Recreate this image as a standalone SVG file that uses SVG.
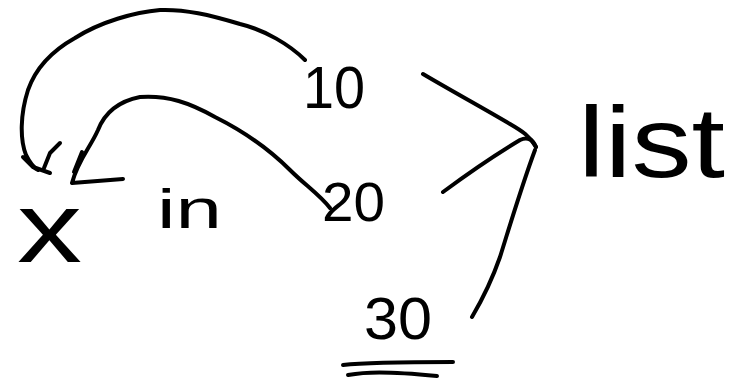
<svg xmlns="http://www.w3.org/2000/svg" width="729" height="381" viewBox="0 0 729 381">
<style>
.t{font-family:"Liberation Sans","DejaVu Sans",sans-serif;fill:#000;}
.c{fill:none;stroke:#000;stroke-width:4;stroke-linecap:round;stroke-linejoin:round;}
</style>
<rect width="729" height="381" fill="#fff"/>
<g id="connectors">
<path class="c" d="M305,60 C290,45 265,30 240,24 C210,15 185,9 160,10 C135,12 100,22 75,38 C50,52 35,70 28,90 C20,115 20,140 26,155 C30,163 34,168 38,170"/>
<path class="c" d="M23,157 L33,167 L50,173"/>
<path class="c" d="M60,143 L50,153 L44,168"/>
<path class="c" d="M330,208 C320,195 305,185 290,170 C270,150 245,132 215,117 C190,103 168,95 140,97 C120,101 105,112 98,130 C90,148 78,160 72,183 L123,179"/>
<path class="c" d="M82,152 L74,172"/>
<path class="c" d="M423,74 C450,90 483,108 510,124 C522,131 530,136 536,147"/>
<path class="c" d="M443,192 C470,172 495,155 520,140 C528,136 533,140 536,147"/>
<path class="c" d="M472,317 C482,300 492,280 500,257 C510,225 522,185 535,150"/>
<path class="c" d="M343,365 C360,363 380,362 453,362"/>
<path class="c" d="M348,375 C365,372 385,371 437,376"/>
</g>
<g id="node-10"><text class="t" x="303" y="108" font-size="60" textLength="62" lengthAdjust="spacingAndGlyphs">10</text></g>
<g id="node-20"><text class="t" x="322" y="221" font-size="55" textLength="63" lengthAdjust="spacingAndGlyphs">20</text></g>
<g id="node-30"><text class="t" x="364" y="339" font-size="60" textLength="68" lengthAdjust="spacingAndGlyphs">30</text></g>
<g id="node-x"><text class="t" x="17" y="262" font-size="100" textLength="65" lengthAdjust="spacingAndGlyphs">x</text></g>
<g id="node-in"><text class="t" x="157" y="228" font-size="55" textLength="65" lengthAdjust="spacingAndGlyphs">in</text></g>
<g id="node-list"><text class="t" x="578" y="177" font-size="100" textLength="147" lengthAdjust="spacingAndGlyphs">list</text></g>
</svg>
